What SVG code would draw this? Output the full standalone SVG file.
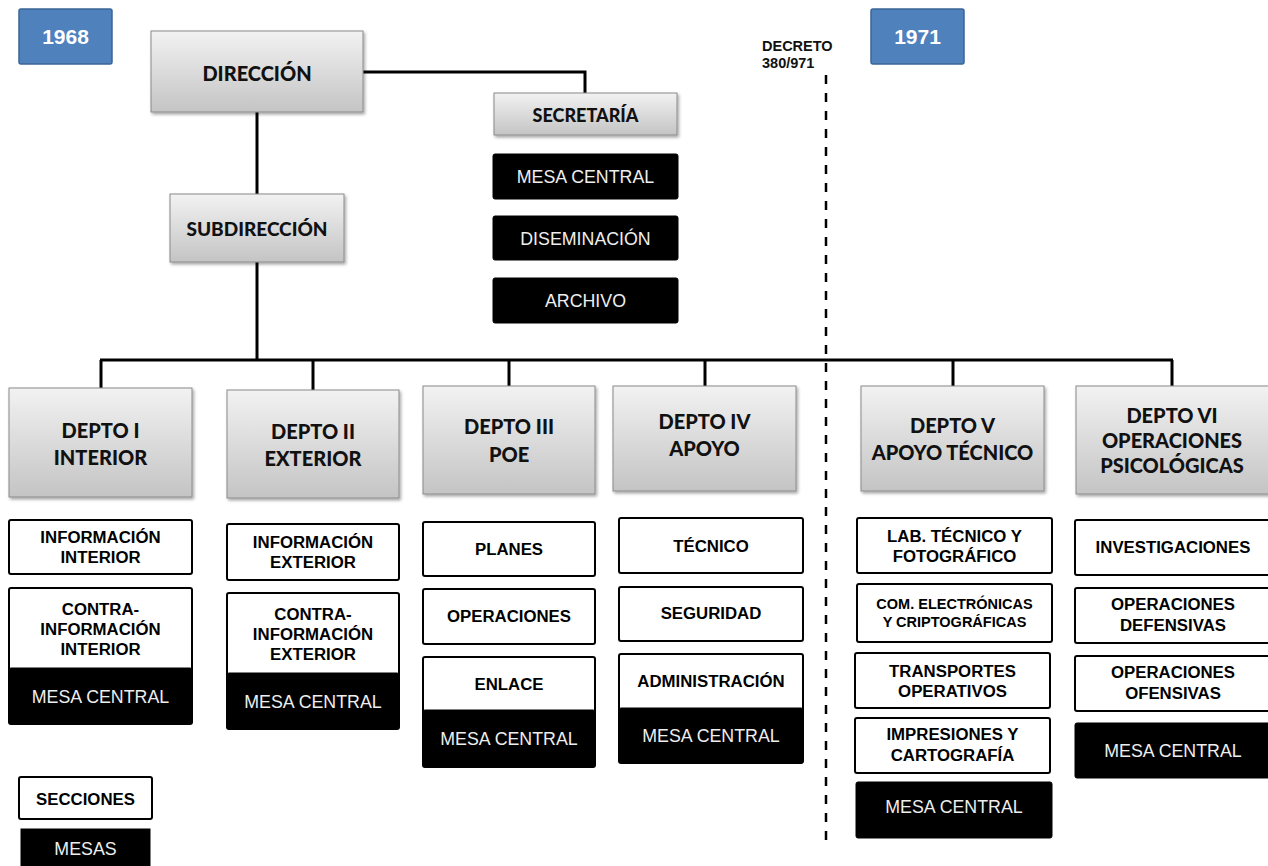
<svg xmlns="http://www.w3.org/2000/svg" width="1268" height="866" viewBox="0 0 1268 866">
<defs>
<linearGradient id="gray" x1="0" y1="0" x2="0" y2="1">
<stop offset="0" stop-color="#f2f2f2"/>
<stop offset="1" stop-color="#c4c4c4"/>
</linearGradient>
<filter id="sh" x="-10%" y="-10%" width="130%" height="140%">
<feDropShadow dx="1.5" dy="2" stdDeviation="1.5" flood-color="#000" flood-opacity="0.35"/>
</filter>
</defs>
<style>
.hdr{fill:url(#gray);stroke:#8a8a8a;stroke-width:1;filter:url(#sh)}
.yr{fill:#4f81bd;stroke:#3a6595;stroke-width:1.5}
.yt{font-family:"Liberation Sans",Arial,sans-serif;font-weight:bold;font-size:21px;fill:#fff;text-anchor:middle}
.ht{font-family:Lato,"Open Sans",sans-serif;font-weight:900;font-size:20px;fill:#111;text-anchor:middle}
.sec{fill:#fff;stroke:#000;stroke-width:2}
.st{font-family:"Liberation Sans",Arial,sans-serif;font-weight:bold;font-size:16.8px;fill:#000;text-anchor:middle}
.sts{font-size:14.5px}
.mesa{fill:#000;stroke:#000;stroke-width:1}
.mt{font-family:"Liberation Sans",Arial,sans-serif;font-size:17.8px;fill:#eee;text-anchor:middle}
.ln{fill:none;stroke:#000;stroke-width:3}
.dec{font-family:"Liberation Sans",Arial,sans-serif;font-weight:bold;font-size:14.5px;fill:#111}
</style>
<rect width="1268" height="866" fill="#fff"/>

<g id="connectors">
<polyline class="ln" points="363,72 585,72 585,93"/>
<line class="ln" x1="257" y1="112" x2="257" y2="194"/>
<line class="ln" x1="257" y1="262" x2="257" y2="360"/>
<line class="ln" x1="100" y1="360" x2="1173" y2="360"/>
<line class="ln" x1="101" y1="360" x2="101" y2="388"/>
<line class="ln" x1="313" y1="360" x2="313" y2="390"/>
<line class="ln" x1="509" y1="360" x2="509" y2="386"/>
<line class="ln" x1="705" y1="360" x2="705" y2="386"/>
<line class="ln" x1="953" y1="360" x2="953" y2="386"/>
<line class="ln" x1="1172" y1="360" x2="1172" y2="386"/>
<line x1="826" y1="75" x2="826" y2="840" stroke="#000" stroke-width="2.5" stroke-dasharray="9 9"/>
</g>

<g id="y1968"><rect class="yr" x="19" y="9" width="93" height="55" rx="2"/><text class="yt" x="65.5" y="44">1968</text></g>
<g id="y1971"><rect class="yr" x="871" y="9" width="93" height="55" rx="2"/><text class="yt" x="917.5" y="44">1971</text></g>
<g id="decreto"><text class="dec" x="762" y="51">DECRETO</text><text class="dec" x="762" y="68">380/971</text></g>

<g id="direccion"><rect class="hdr" x="151" y="31" width="212" height="81"/><text class="ht" x="257" y="81">DIRECCIÓN</text></g>
<g id="subdireccion"><rect class="hdr" x="170" y="194" width="174" height="68"/><text class="ht" x="257" y="236" style="font-size:19px">SUBDIRECCIÓN</text></g>
<g id="secretaria"><rect class="hdr" x="494" y="93" width="183" height="42"/><text class="ht" x="585.5" y="122" style="font-size:18px">SECRETARÍA</text></g>
<g id="sec-mesa"><rect class="mesa" x="493" y="154" width="185" height="45" rx="2"/><text class="mt" x="585.5" y="183">MESA CENTRAL</text></g>
<g id="sec-disem"><rect class="mesa" x="493" y="216" width="185" height="44" rx="2"/><text class="mt" x="585.5" y="245">DISEMINACIÓN</text></g>
<g id="sec-archivo"><rect class="mesa" x="493" y="278" width="185" height="45" rx="2"/><text class="mt" x="585.5" y="307">ARCHIVO</text></g>

<!-- DEPTO I -->
<g id="depto1"><rect class="hdr" x="9" y="388" width="183" height="109"/><text class="ht" x="100.5" y="438">DEPTO I</text><text class="ht" x="100.5" y="465">INTERIOR</text></g>
<g id="d1-info"><rect class="sec" x="9" y="520" width="183" height="54" rx="2"/><text class="st" x="100.5" y="543">INFORMACIÓN</text><text class="st" x="100.5" y="563">INTERIOR</text></g>
<g id="d1-contra"><rect class="sec" x="9" y="588" width="183" height="136" rx="2"/><rect class="mesa" x="9" y="668" width="183" height="56" rx="2"/><text class="st" x="100.5" y="615">CONTRA-</text><text class="st" x="100.5" y="635">INFORMACIÓN</text><text class="st" x="100.5" y="655">INTERIOR</text><text class="mt" x="100.5" y="703">MESA CENTRAL</text></g>

<!-- DEPTO II -->
<g id="depto2"><rect class="hdr" x="227" y="390" width="172" height="108"/><text class="ht" x="313" y="439">DEPTO II</text><text class="ht" x="313" y="466">EXTERIOR</text></g>
<g id="d2-info"><rect class="sec" x="227" y="524" width="172" height="56" rx="2"/><text class="st" x="313" y="548">INFORMACIÓN</text><text class="st" x="313" y="568">EXTERIOR</text></g>
<g id="d2-contra"><rect class="sec" x="227" y="593" width="172" height="136" rx="2"/><rect class="mesa" x="227" y="673" width="172" height="56" rx="2"/><text class="st" x="313" y="620">CONTRA-</text><text class="st" x="313" y="640">INFORMACIÓN</text><text class="st" x="313" y="660">EXTERIOR</text><text class="mt" x="313" y="708">MESA CENTRAL</text></g>

<!-- DEPTO III -->
<g id="depto3"><rect class="hdr" x="423" y="386" width="172" height="108"/><text class="ht" x="509" y="434">DEPTO III</text><text class="ht" x="509" y="462">POE</text></g>
<g id="d3-planes"><rect class="sec" x="423" y="522" width="172" height="54" rx="2"/><text class="st" x="509" y="555">PLANES</text></g>
<g id="d3-oper"><rect class="sec" x="423" y="589" width="172" height="55" rx="2"/><text class="st" x="509" y="622">OPERACIONES</text></g>
<g id="d3-enlace"><rect class="sec" x="423" y="657" width="172" height="110" rx="2"/><rect class="mesa" x="423" y="710" width="172" height="57" rx="2"/><text class="st" x="509" y="690">ENLACE</text><text class="mt" x="509" y="745">MESA CENTRAL</text></g>

<!-- DEPTO IV -->
<g id="depto4"><rect class="hdr" x="613" y="386" width="183" height="105"/><text class="ht" x="704.5" y="429">DEPTO IV</text><text class="ht" x="704.5" y="456">APOYO</text></g>
<g id="d4-tecnico"><rect class="sec" x="619" y="518" width="184" height="55" rx="2"/><text class="st" x="711" y="552">TÉCNICO</text></g>
<g id="d4-seg"><rect class="sec" x="619" y="587" width="184" height="54" rx="2"/><text class="st" x="711" y="619">SEGURIDAD</text></g>
<g id="d4-admin"><rect class="sec" x="619" y="654" width="184" height="109" rx="2"/><rect class="mesa" x="619" y="708" width="184" height="55" rx="2"/><text class="st" x="711" y="687">ADMINISTRACIÓN</text><text class="mt" x="711" y="742">MESA CENTRAL</text></g>

<!-- DEPTO V -->
<g id="depto5"><rect class="hdr" x="861" y="386" width="183" height="105"/><text class="ht" x="952.5" y="433">DEPTO V</text><text class="ht" x="952.5" y="460">APOYO TÉCNICO</text></g>
<g id="d5-lab"><rect class="sec" x="857" y="518" width="195" height="55" rx="2"/><text class="st" x="954.5" y="542">LAB. TÉCNICO Y</text><text class="st" x="954.5" y="562">FOTOGRÁFICO</text></g>
<g id="d5-com"><rect class="sec" x="857" y="584" width="195" height="58" rx="2"/><text class="st sts" x="954.5" y="609">COM. ELECTRÓNICAS</text><text class="st sts" x="954.5" y="627">Y CRIPTOGRÁFICAS</text></g>
<g id="d5-trans"><rect class="sec" x="855" y="653" width="195" height="55" rx="2"/><text class="st" x="952.5" y="677">TRANSPORTES</text><text class="st" x="952.5" y="697">OPERATIVOS</text></g>
<g id="d5-impr"><rect class="sec" x="855" y="718" width="195" height="55" rx="2"/><text class="st" x="952.5" y="740">IMPRESIONES Y</text><text class="st" x="952.5" y="761">CARTOGRAFÍA</text></g>
<g id="d5-mesa"><rect class="mesa" x="856" y="782" width="196" height="56" rx="2"/><text class="mt" x="954" y="813">MESA CENTRAL</text></g>

<!-- DEPTO VI -->
<g id="depto6"><rect class="hdr" x="1076" y="386" width="194" height="108"/><text class="ht" x="1172" y="423">DEPTO VI</text><text class="ht" x="1172" y="448">OPERACIONES</text><text class="ht" x="1172" y="473">PSICOLÓGICAS</text></g>
<g id="d6-inv"><rect class="sec" x="1075" y="520" width="196" height="55" rx="2"/><text class="st" x="1173" y="553">INVESTIGACIONES</text></g>
<g id="d6-def"><rect class="sec" x="1075" y="588" width="196" height="55" rx="2"/><text class="st" x="1173" y="610">OPERACIONES</text><text class="st" x="1173" y="631">DEFENSIVAS</text></g>
<g id="d6-of"><rect class="sec" x="1075" y="656" width="196" height="55" rx="2"/><text class="st" x="1173" y="678">OPERACIONES</text><text class="st" x="1173" y="699">OFENSIVAS</text></g>
<g id="d6-mesa"><rect class="mesa" x="1075" y="723" width="196" height="55" rx="2"/><text class="mt" x="1173" y="757">MESA CENTRAL</text></g>

<!-- Legend -->
<g id="leg-secciones"><rect class="sec" x="19" y="777" width="133" height="42" rx="2"/><text class="st" x="85.5" y="805">SECCIONES</text></g>
<g id="leg-mesas"><rect class="mesa" x="21" y="829" width="129" height="40"/><text class="mt" x="85.5" y="855">MESAS</text></g>
</svg>
